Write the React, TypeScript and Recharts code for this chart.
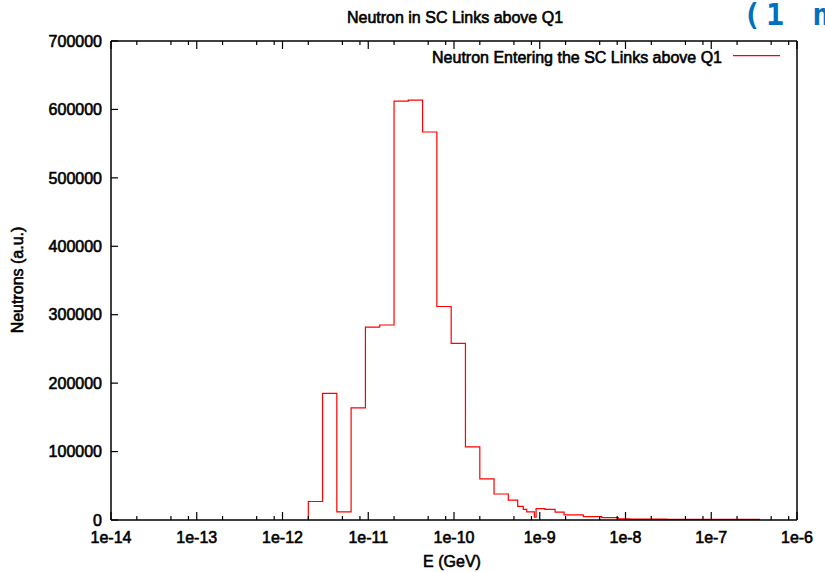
import React from 'react';
import { LineChart, Line, XAxis, YAxis, Legend } from 'recharts';

// Histogram bin edges (GeV) and neutron counts per bin
const binEdges: number[] = [
  2.0e-12, 2.93e-12, 4.3e-12, 6.31e-12, 9.27e-12, 1.36e-11, 2.0e-11, 2.93e-11, 4.3e-11,
  6.31e-11, 9.27e-11, 1.36e-10, 2.0e-10, 2.93e-10, 4.3e-10, 5.53e-10, 6.43e-10, 7.05e-10,
  8.65e-10, 9.06e-10, 1.15e-9, 1.51e-9, 1.92e-9, 3.22e-9, 5.27e-9, 8.24e-9, 1.13e-8,
  3.02e-8, 3.7e-7,
];
const binCounts: number[] = [
  27000, 185000, 12000, 164000, 282000, 285000, 612000, 613500, 567000, 312000, 258000,
  107000, 60000, 38000, 29000, 20000, 15500, 12000, 4000, 16500, 15500, 11500, 7500,
  4800, 3400, 1700, 1300, 800,
];

const xMajorTicks: number[] = [1e-14, 1e-13, 1e-12, 1e-11, 1e-10, 1e-9, 1e-8, 1e-7, 1e-6];
const xTickLabels: string[] = ['1e-14', '1e-13', '1e-12', '1e-11', '1e-10', '1e-9', '1e-8', '1e-7', '1e-6'];
const xMinorFactors: number[] = [2, 5, 8];
const yTicks: number[] = [0, 100000, 200000, 300000, 400000, 500000, 600000, 700000];
const yTickLabels: string[] = ['0', '100000', '200000', '300000', '400000', '500000', '600000', '700000'];

const seriesName = 'Neutron Entering the SC Links above Q1';

// stepBefore: start at the first edge at zero, then each bin's count at its right edge
const data = [{ x: binEdges[0], y: 0 }].concat(
  binCounts.map((c, i) => ({ x: binEdges[i + 1], y: c }))
);

const xTicks: number[] = [];
xMajorTicks.forEach((m, i) => {
  xTicks.push(m);
  if (i < xMajorTicks.length - 1) xMinorFactors.forEach((f) => xTicks.push(m * f));
});

const FONT = 'Liberation Sans, Arial, Helvetica, sans-serif';
const textStyle: React.CSSProperties = { fontFamily: FONT, fontSize: 16 };
const TXT = { fill: '#000', stroke: '#000', strokeWidth: 0.6 };
const TINY = 0.001;

const majorIndex = (v: number) => xMajorTicks.findIndex((m) => Math.abs(m - v) / m < 1e-6);

const BottomTick = (props: any) => {
  const { x, y, payload } = props;
  const idx = majorIndex(payload.value);
  const len = idx >= 0 ? 8 : 4;
  return (
    <g>
      <line x1={x} x2={x} y1={y} y2={y - len} stroke="#000" strokeWidth={1.2} />
      {idx >= 0 && (
        <text x={x} y={y + 23} textAnchor="middle" style={textStyle} {...TXT}>
          {xTickLabels[idx]}
        </text>
      )}
    </g>
  );
};

const TopTick = (props: any) => {
  const { x, y, payload } = props;
  const idx = majorIndex(payload.value);
  const len = idx >= 0 ? 8 : 4;
  return <line x1={x} x2={x} y1={y} y2={y + len} stroke="#000" strokeWidth={1.2} />;
};

const LeftTick = (props: any) => {
  const { x, y, payload } = props;
  const idx = yTicks.indexOf(payload.value);
  return (
    <g>
      <line x1={x} x2={x + 7} y1={y} y2={y} stroke="#000" strokeWidth={1.2} />
      <text x={x - 9} y={y + 5.7} textAnchor="end" style={textStyle} {...TXT}>
        {yTickLabels[idx]}
      </text>
    </g>
  );
};

const RightTick = (props: any) => {
  const { x, y } = props;
  return <line x1={x} x2={x - 7} y1={y} y2={y} stroke="#000" strokeWidth={1.2} />;
};

const LegendContent = () => (
  <svg width={825} height={80} style={{ position: 'absolute', left: 0, top: 0, overflow: 'visible' }}>
    <text x={722} y={63} textAnchor="end" style={textStyle} {...TXT}>
      {seriesName}
    </text>
    <line x1={733} x2={780} y1={55.7} y2={55.7} stroke="#ff0000" strokeWidth={1.2} />
  </svg>
);

export default function App() {
  return (
    <div style={{ position: 'absolute', left: 0, top: 0, width: 825, height: 572, background: '#fff', overflow: 'hidden' }}>
      <LineChart
        width={825}
        height={572}
        data={data}
        margin={{ top: 40, right: 27, bottom: 0, left: 0 }}
      >
        <XAxis
          xAxisId="bottom"
          dataKey="x"
          type="number"
          scale="log"
          domain={[1e-14, 1e-6]}
          allowDataOverflow
          ticks={xTicks}
          interval={0}
          height={52}
          tickSize={TINY}
          tickMargin={TINY}
          tick={<BottomTick />}
          axisLine={{ stroke: '#000', strokeWidth: 1.5 }}
          tickLine={false}
        />
        <XAxis
          xAxisId="top"
          orientation="top"
          dataKey="x"
          type="number"
          scale="log"
          domain={[1e-14, 1e-6]}
          allowDataOverflow
          ticks={xTicks}
          interval={0}
          height={1}
          tickSize={TINY}
          tickMargin={TINY}
          tick={<TopTick />}
          axisLine={{ stroke: '#000', strokeWidth: 1.5 }}
          tickLine={false}
        />
        <YAxis
          yAxisId="left"
          type="number"
          domain={[0, 700000]}
          ticks={yTicks}
          interval={0}
          width={111}
          tickSize={TINY}
          tickMargin={TINY}
          tick={<LeftTick />}
          axisLine={{ stroke: '#000', strokeWidth: 1.5 }}
          tickLine={false}
        />
        <YAxis
          yAxisId="right"
          orientation="right"
          type="number"
          domain={[0, 700000]}
          ticks={yTicks}
          interval={0}
          width={1}
          tickSize={TINY}
          tickMargin={TINY}
          tick={<RightTick />}
          axisLine={{ stroke: '#000', strokeWidth: 1.5 }}
          tickLine={false}
        />
        <Legend
          layout="horizontal"
          verticalAlign="middle"
          align="center"
          wrapperStyle={{ position: 'absolute', left: 0, top: 0, width: 825, height: 0 }}
          content={<LegendContent />}
        />
        <Line
          xAxisId="bottom"
          yAxisId="left"
          type="stepBefore"
          dataKey="y"
          name={seriesName}
          stroke="#ff0000"
          strokeWidth={1.2}
          dot={false}
          activeDot={false}
          isAnimationActive={false}
        />
      </LineChart>
      <svg width={825} height={572} style={{ position: 'absolute', left: 0, top: 0, pointerEvents: 'none' }}>
        <text x={455} y={23} textAnchor="middle" style={textStyle} {...TXT}>
          Neutron in SC Links above Q1
        </text>
        <text x={452} y={567} textAnchor="middle" style={textStyle} {...TXT}>
          E (GeV)
        </text>
        <text x={23} y={280} textAnchor="middle" transform="rotate(-90 23 280)" style={textStyle} {...TXT}>
          Neutrons (a.u.)
        </text>
        <text
          x={743}
          y={25}
          style={{ fontFamily: 'DejaVu Sans Mono, monospace', fontSize: 30, fontWeight: 'bold', letterSpacing: 5, whiteSpace: 'pre' }}
          fill="#0070c0"
        >
          (1 n
        </text>
      </svg>
    </div>
  );
}
